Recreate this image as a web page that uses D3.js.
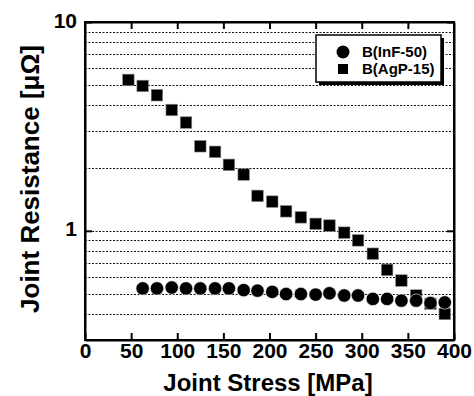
<!DOCTYPE html>
<html>
<head>
<meta charset="utf-8">
<script src="https://cdn.jsdelivr.net/npm/d3@7/dist/d3.min.js"></script>
<style>
  body { margin: 0; background: #fff; }
  text { font-family: "Liberation Sans", Arial, sans-serif; font-weight: bold; fill: #000; }
</style>
</head>
<body>
<div id="chart"></div>
<script>
// joint stress values shared by both series [MPa]
var stressAgP = [47, 62.5, 78, 94, 109.5, 125, 141, 156, 172, 187, 203, 218, 234, 250, 265, 281, 296, 312, 327.5, 343, 359, 374.5, 390];
var resistAgP = [5.28, 4.94, 4.46, 3.79, 3.30, 2.54, 2.39, 2.07, 1.86, 1.47, 1.38, 1.24, 1.16, 1.08, 1.06, 0.98, 0.90, 0.777, 0.65, 0.578, 0.49, 0.447, 0.40];
var stressInF = [62.5, 78, 94, 109.5, 125, 141, 156, 172, 187, 203, 218, 234, 250, 265, 281, 296, 312, 327.5, 343, 359, 374.5, 390];
var resistInF = [0.53, 0.53, 0.535, 0.53, 0.53, 0.53, 0.53, 0.52, 0.517, 0.51, 0.498, 0.498, 0.495, 0.502, 0.49, 0.49, 0.472, 0.472, 0.463, 0.463, 0.451, 0.454];
var xTicks = [0, 50, 100, 150, 200, 250, 300, 350, 400];
var yTicks = [1, 10];
var gridValues = [0.4, 0.5, 0.6, 0.7, 0.8, 0.9, 1, 2, 3, 4, 5, 6, 7, 8, 9];
var legendNames = ["B(InF-50)", "B(AgP-15)"];

var width = 474, height = 396;
//plot box edges (don't call these top/left, window.top is read only)
var plotL = 85, plotR = 454, plotT = 22, plotB = 340;

var svg = d3.select("#chart").append("svg")
  .attr("width", width)
  .attr("height", height);

var x = d3.scaleLinear().domain([0, 400]).range([plotL, plotR]);
var y = d3.scaleLog().domain([0.3, 10]).range([plotB, plotT]);

//dotted grid lines
svg.append("g").selectAll("line")
  .data(gridValues)
  .enter().append("line")
  .attr("x1", plotL).attr("x2", plotR)
  .attr("y1", function(d){ return Math.round(y(d)) + 0.5; })
  .attr("y2", function(d){ return Math.round(y(d)) + 0.5; })
  .attr("stroke", "#111")
  .attr("stroke-width", 1)
  .attr("stroke-dasharray", "2,1.5");

//axes with inward ticks
var xAxis = svg.append("g")
  .attr("transform", "translate(0," + plotB + ")")
  .call(d3.axisBottom(x).tickValues(xTicks).tickSize(-7).tickSizeOuter(0).tickFormat(d3.format("d")));
xAxis.selectAll("text")
  .attr("y", 18).attr("dy", 0)
  .style("font-size", "21px");

svg.append("g")
  .attr("transform", "translate(0," + plotT + ")")
  .call(d3.axisTop(x).tickValues(xTicks.slice(1, -1)).tickSize(-7).tickSizeOuter(0).tickFormat(""));

var yAxis = svg.append("g")
  .attr("transform", "translate(" + plotL + ",0)")
  .call(d3.axisLeft(y).tickValues(yTicks).tickSize(-7).tickSizeOuter(0).tickFormat(d3.format("d")));
yAxis.selectAll("text")
  .attr("x", -8).attr("dy", 0).attr("y", 5)
  .style("font-size", "21px");

svg.append("g")
  .attr("transform", "translate(" + plotR + ",0)")
  .call(d3.axisRight(y).tickValues(yTicks).tickSize(-7).tickSizeOuter(0).tickFormat(""));

svg.selectAll(".domain").attr("stroke", "#000").attr("stroke-width", 2);
svg.selectAll(".tick line").attr("stroke", "#000").attr("stroke-width", 2);

//frame
svg.append("rect")
  .attr("x", plotL).attr("y", plotT)
  .attr("width", plotR - plotL).attr("height", plotB - plotT)
  .attr("fill", "none")
  .attr("stroke", "#000")
  .attr("stroke-width", 2);

//square series
var sq = 11.5;
svg.append("g").selectAll("rect")
  .data(d3.zip(stressAgP, resistAgP))
  .enter().append("rect")
  .attr("x", function(d){ return x(d[0]) - sq / 2; })
  .attr("y", function(d){ return y(d[1]) - sq / 2; })
  .attr("width", sq).attr("height", sq)
  .attr("fill", "#000")
  .attr("stroke", "#888")
  .attr("stroke-width", 0.6);

//circle series
svg.append("g").selectAll("circle")
  .data(d3.zip(stressInF, resistInF))
  .enter().append("circle")
  .attr("cx", function(d){ return x(d[0]); })
  .attr("cy", function(d){ return y(d[1]); })
  .attr("r", 6.7)
  .attr("fill", "#000")
  .attr("stroke", "#fff")
  .attr("stroke-width", 0.6);

//legend box with shadow
var lg = svg.append("g").attr("transform", "translate(316,35)");
lg.append("rect").attr("x", 3).attr("y", 3).attr("width", 125).attr("height", 47).attr("fill", "#000");
lg.append("rect").attr("x", 0).attr("y", 0).attr("width", 125).attr("height", 47)
  .attr("fill", "#fff").attr("stroke", "#000").attr("stroke-width", 1.5);
lg.append("circle").attr("cx", 27).attr("cy", 17).attr("r", 6.5).attr("fill", "#000");
lg.append("rect").attr("x", 22).attr("y", 29).attr("width", 10).attr("height", 10).attr("fill", "#000");
lg.selectAll("text.lab")
  .data(legendNames)
  .enter().append("text")
  .attr("class", "lab")
  .attr("x", 46)
  .attr("y", function(d, i){ return 22 + i * 17; })
  .style("font-size", "15px")
  .text(function(d){ return d; });

//axis titles
svg.append("text")
  .attr("x", 268).attr("y", 391)
  .attr("text-anchor", "middle")
  .style("font-size", "24px")
  .text("Joint Stress [MPa]");

svg.append("text")
  .attr("transform", "translate(39,179) rotate(-90)")
  .attr("text-anchor", "middle")
  .style("font-size", "26px")
  .text("Joint Resistance [\u03bc\u03a9]");
</script>
</body>
</html>
